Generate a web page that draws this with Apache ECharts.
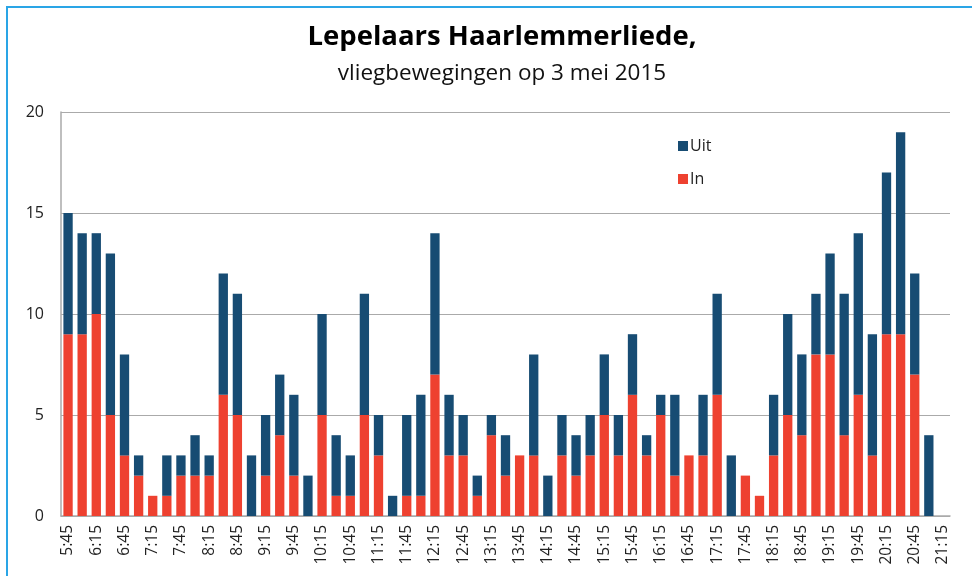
<!DOCTYPE html>
<html><head><meta charset="utf-8">
<script src="https://cdn.jsdelivr.net/npm/echarts@6/dist/echarts.min.js"></script>
<style>
html,body{margin:0;padding:0;background:#fff;}
#frame{position:absolute;left:6px;top:6px;width:966px;height:570px;border-left:2px solid #2aa5e6;border-top:2px solid #2aa5e6;box-sizing:border-box;}
#c{position:absolute;left:0;top:0;width:972px;height:576px;}
</style></head>
<body>
<div id="frame"></div>
<div id="c"></div>
<script>
const categories = ["5:45","6:00","6:15","6:30","6:45","7:00","7:15","7:30","7:45","8:00","8:15","8:30","8:45","9:00","9:15","9:30","9:45","10:00","10:15","10:30","10:45","11:00","11:15","11:30","11:45","12:00","12:15","12:30","12:45","13:00","13:15","13:30","13:45","14:00","14:15","14:30","14:45","15:00","15:15","15:30","15:45","16:00","16:15","16:30","16:45","17:00","17:15","17:30","17:45","18:00","18:15","18:30","18:45","19:00","19:15","19:30","19:45","20:00","20:15","20:30","20:45","21:00","21:15"];
const inValues = [9,9,10,5,3,2,1,1,2,2,2,6,5,0,2,4,2,0,5,1,1,5,3,0,1,1,7,3,3,1,4,2,3,3,0,3,2,3,5,3,6,3,5,2,3,3,6,0,2,1,3,5,4,8,8,4,6,3,9,9,7,0,null];
const uitValues = [6,5,4,8,5,1,0,2,1,2,1,6,6,3,3,3,4,2,5,3,2,6,2,1,4,5,7,3,2,1,1,2,0,5,2,2,2,2,3,2,3,1,1,4,0,3,5,3,0,0,3,5,4,3,5,7,8,6,8,10,5,4,null];
const yTicks = [0,5,10,15,20];

const chart = echarts.init(document.getElementById('c'));
chart.setOption({
  animation:false,
  backgroundColor:'transparent',
  title:[
    {text:'Lepelaars Haarlemmerliede,',left:497,textAlign:'center',top:18,
     textStyle:{fontFamily:'Open Sans',fontWeight:'bold',fontSize:27.5,color:'#000'}},
    {text:'vliegbewegingen op 3 mei 2015',left:497,textAlign:'center',top:57,
     textStyle:{fontFamily:'Open Sans',fontWeight:'normal',fontSize:22.5,color:'#111'}}
  ],
  legend:{
    orient:'vertical',left:673,top:133,itemWidth:10,itemHeight:10,itemGap:17,
    icon:'rect',data:['Uit','In'],
    textStyle:{fontFamily:'Open Sans',fontSize:16,color:'#222',padding:[0,0,0,-3]}
  },
  grid:{left:61,right:22,top:112,bottom:60,containLabel:false},
  xAxis:{
    type:'category',data:categories,
    axisLine:{show:true,lineStyle:{color:'#aaa',width:1.5}},
    axisTick:{show:false},
    axisLabel:{interval:1,rotate:90,fontFamily:'Open Sans',fontSize:15.5,color:'#222',margin:9}
  },
  yAxis:{
    type:'value',min:0,max:20,interval:5,
    axisLine:{show:true,lineStyle:{color:'#aaa',width:1.5}},
    axisTick:{show:false},
    splitLine:{lineStyle:{color:'#aaa',width:1.2}},
    axisLabel:{fontFamily:'Open Sans',fontSize:16,color:'#222',margin:17,
      formatter:function(v){return yTicks.indexOf(v)>=0?String(v):'';}}
  },
  series:[
    {name:'In',type:'bar',stack:'t',data:inValues,barWidth:'66%',itemStyle:{color:'#ee4130'}},
    {name:'Uit',type:'bar',stack:'t',data:uitValues,barWidth:'66%',itemStyle:{color:'#174c73'}}
  ]
});
</script>
</body></html>
